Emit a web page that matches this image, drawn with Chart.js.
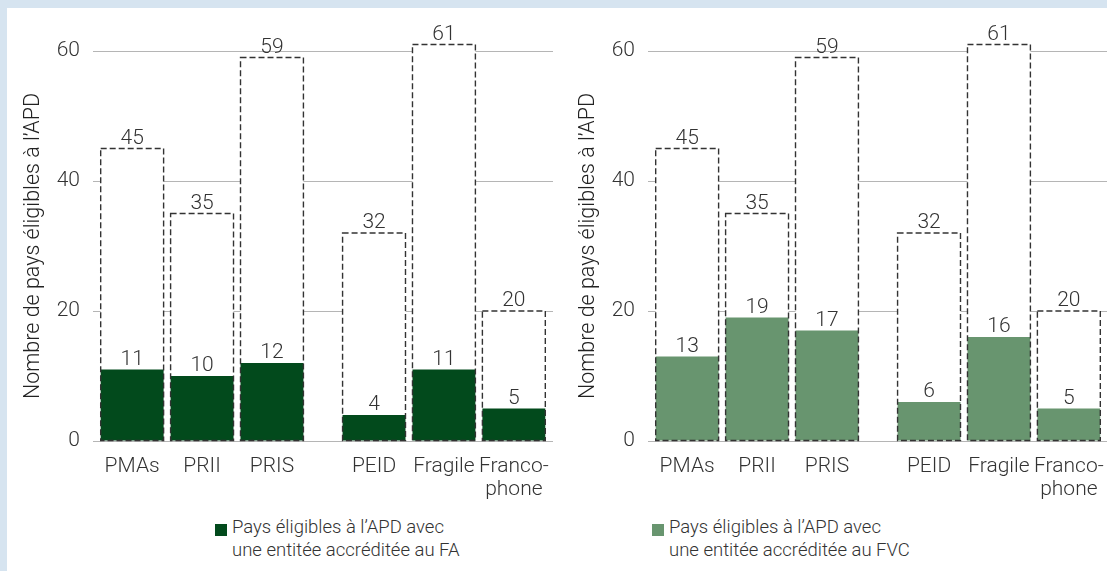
<!DOCTYPE html>
<html>
<head>
<meta charset="utf-8">
<script src="https://cdn.jsdelivr.net/npm/chart.js@4.4.0/dist/chart.umd.min.js"></script>
<style>
html,body{margin:0;padding:0;width:1107px;height:571px;overflow:hidden;background:#d6e4f0;font-family:Roboto,sans-serif}
.sheet{position:absolute;left:7px;top:8px;right:0;bottom:0;background:#fff}
.panel{position:absolute;top:8px}
.legend{position:absolute;top:516px;font-size:18.5px;font-weight:300;line-height:23px;color:#333;white-space:nowrap}
.legend i{position:absolute;left:-17px;top:8px;width:12px;height:12px}
</style>
</head>
<body>
<div class="sheet"></div>
<canvas id="fa" class="panel" style="left:7px" width="548" height="500"></canvas>
<canvas id="fvc" class="panel" style="left:562px" width="548" height="500"></canvas>
<div class="legend" style="left:232px"><i style="background:#024a1c"></i>Pays éligibles à l’APD avec<br>une entitée accréditée au FA</div>
<div class="legend" style="left:669px"><i style="background:#68956f"></i>Pays éligibles à l’APD avec<br>une entitée accréditée au FVC</div>
<script>
// donnees
const categories = ['PMAs', 'PRII', 'PRIS', 'PEID', 'Fragile', ['Franco-', 'phone']]
const groupOf = [0, 0, 0, 1, 1, 1]
const totalEligible = [45, 35, 59, 32, 61, 20]
const withFA = [11, 10, 12, 4, 11, 5]
const withFVC = [13, 19, 17, 6, 16, 5]
const yTicks = [0, 20, 40, 60]

const GROUP_GAP = 0.46
const EDGE = 0.56
const xPos = categories.map((c, i) => i + groupOf[i] * GROUP_GAP)
const textColor = '#333'
const font = { family: 'Roboto', size: 21, weight: 300 }

const outlineAndValues = {
  id: 'outlineAndValues',
  afterDatasetsDraw(chart) {
    let ctx = chart.ctx
    ctx.save()
    ctx.setLineDash([6, 3])
    ctx.lineWidth = 1.4
    ctx.strokeStyle = '#333'
    chart.getDatasetMeta(0).data.forEach(bar => {
      let p = bar.getProps(['x', 'y', 'base', 'width'], true)
      ctx.strokeRect(p.x - p.width / 2, p.y, p.width, p.base - p.y)
    })
    ctx.setLineDash([])
    ctx.font = '300 21px Roboto'
    ctx.fillStyle = textColor
    ctx.textAlign = 'center'
    ctx.textBaseline = 'alphabetic'
    chart.data.datasets.forEach((ds, di) => {
      chart.getDatasetMeta(di).data.forEach((bar, i) => {
        ctx.fillText(ds.values[i], bar.x, bar.y - 5)
      })
    })
    ctx.restore()
  }
}

function noPad(s) {
  s.paddingLeft = 0
  s.paddingRight = 0
  s.paddingTop = 0
  s.paddingBottom = 0
}

function makePanel(id, values, color) {
  let canvas = document.getElementById(id)
  new Chart(canvas, {
    type: 'bar',
    data: {
      datasets: [{
        values: totalEligible,
        data: xPos.map((x, i) => ({ x: x, y: totalEligible[i] })),
        backgroundColor: '#fff',
        clip: false,
        order: 2
      }, {
        values: values,
        data: xPos.map((x, i) => ({ x: x, y: values[i] })),
        backgroundColor: color,
        clip: false,
        order: 1
      }]
    },
    options: {
      responsive: false,
      animation: false,
      events: [],
      layout: { padding: { left: 10, top: 43, right: 2, bottom: 0 } },
      datasets: { bar: { grouped: false, barPercentage: 0.9, categoryPercentage: 1, borderWidth: 0 } },
      plugins: { legend: { display: false }, tooltip: { enabled: false } },
      scales: {
        x: {
          type: 'linear',
          bounds: 'data',
          offset: false,
          min: -EDGE,
          max: xPos[xPos.length - 1] + EDGE,
          grid: { display: false, drawTicks: false },
          border: { display: false },
          afterBuildTicks: s => { s.ticks = xPos.map(v => ({ value: v })) },
          ticks: {
            autoSkip: false, maxRotation: 0, padding: 14, color: textColor,
            font: Object.assign({}, font, { lineHeight: 1.1 }),
            callback: (v, i) => categories[i]
          },
          afterFit: s => { s.height = 67; noPad(s) }
        },
        y: {
          bounds: 'data',
          min: 0,
          max: 60,
          afterBuildTicks: s => { s.ticks = yTicks.map(v => ({ value: v })) },
          grid: { color: '#b5b5b5', drawTicks: false, lineWidth: 1 },
          border: { display: false },
          ticks: { padding: 13, color: textColor, font: font },
          title: {
            display: true,
            text: 'Nombre de pays éligibles à l’APD',
            color: '#222',
            font: { family: 'Roboto', size: 21.5, weight: 300 },
            padding: { top: 4, bottom: 4 }
          },
          afterFit: s => { s.width = 76; noPad(s) }
        }
      }
    },
    plugins: [outlineAndValues]
  })
}

makePanel('fa', withFA, '#024a1c')
makePanel('fvc', withFVC, '#68956f')
</script>
</body>
</html>
